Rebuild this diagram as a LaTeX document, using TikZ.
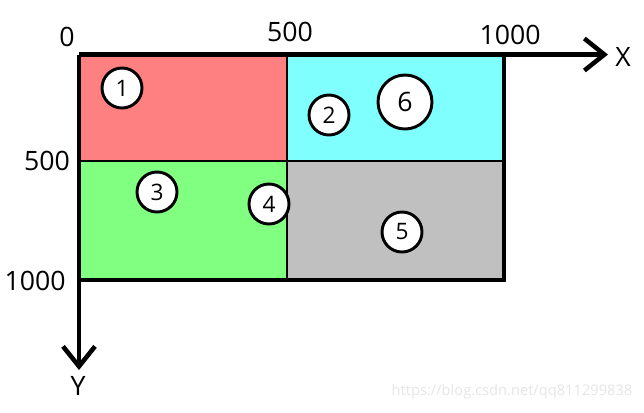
\documentclass[tikz,border=0pt]{standalone}
\usepackage{fontspec}
\setmainfont{Open Sans}
\usepackage{tikz}
\usetikzlibrary{arrows.meta,positioning}
\tikzset{
	x=0.75pt, y=-0.75pt, % pixel grid, y going down
	axis/.style={line width=3.4pt, -{Straight Barb[length=15pt,width=24pt,line width=3.4pt]}},
	tick/.style={font=\fontsize{20}{24}\selectfont},
	region/.style={circle, draw, fill=white, line width=2.2pt, inner sep=0pt,
		minimum size=30pt, font=\fontsize{17}{20}\selectfont},
	split/.style={line width=2.2pt},
}
\definecolor{redpart}{HTML}{FF8080}
\definecolor{cyanpart}{HTML}{80FFFF}
\definecolor{greenpart}{HTML}{80FF80}
\definecolor{graypart}{HTML}{C0C0C0}
\begin{document}
\begin{tikzpicture}
	\useasboundingbox (0,0) rectangle (644,412);
	% the four quarters
	\fill[redpart] (79,54.5) rectangle (287,161);
	\fill[cyanpart] (287,54.5) rectangle (504,161);
	\fill[greenpart] (79,161) rectangle (287,280);
	\fill[graypart] (287,161) rectangle (504,280);
	\draw[split] (287,54.5) -- (287,280);
	\draw[split] (79,161) -- (504,161);
	\draw[line width=3.4pt] (79,280) -- (504,280) -- (504,54.5);

	% axes
	\coordinate (o) at (79,54.5);
	\coordinate (xend) at (608,54.5);
	\coordinate (yend) at (79,370);
	\draw[axis] (o) -- (xend);
	\draw[axis] (o) -- (yend);
	\node[tick] (xlab) at (623,57) {X};
	\node[tick] (ylab) at (78,386) {Y};

	% scale marks
	\node[tick] (zero) at (67,37) {0};
	\node[tick] (x500) at (290,32) {500};
	\node[tick] (x1000) at (510,35) {1000};
	\node[tick] (y500) at (47,161) {500};
	\node[tick] (y1000) at (35,281) {1000};

	% numbered points
	\node[region] (r1) at (122,88) {1};
	\node[region] (r2) at (329,115) {2};
	\node[region] (r3) at (157,192) {3};
	\node[region] (r4) at (269,204) {4};
	\node[region] (r5) at (402,232) {5};
	\node[region, minimum size=40.5pt, font=\fontsize{20}{24}\selectfont] (r6) at (405,102) {6};

	\node[text=black!10, font=\fontsize{11}{13}\selectfont] (mark) at (512,392) {https://blog.csdn.net/qq811299838};
\end{tikzpicture}
\end{document}
